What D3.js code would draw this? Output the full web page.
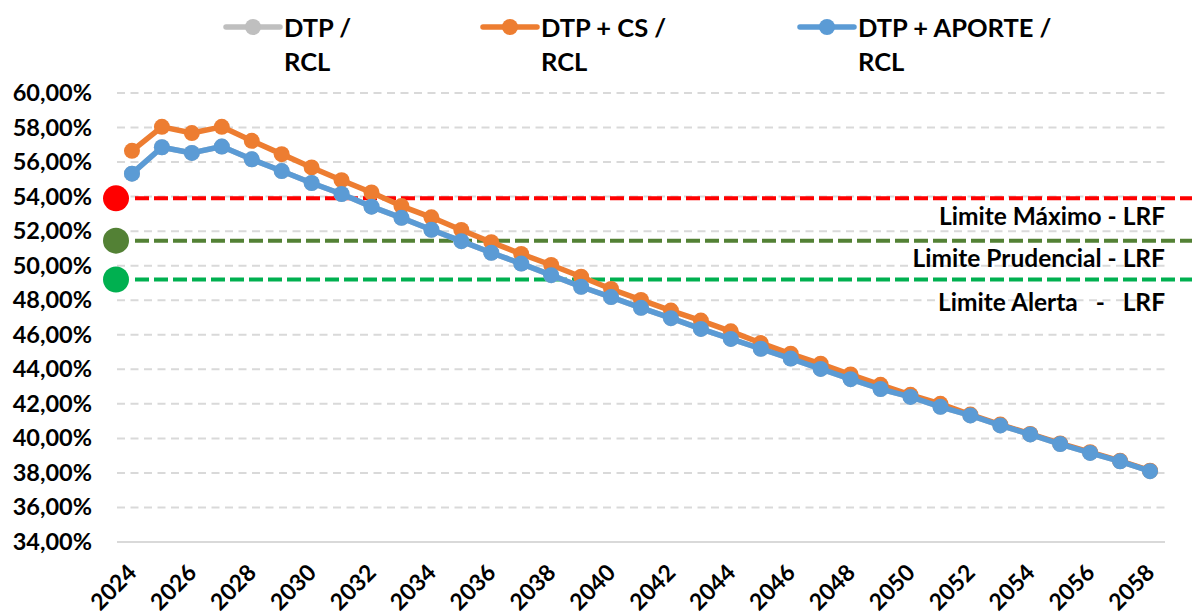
<!DOCTYPE html>
<html><head><meta charset="utf-8">
<script src="https://cdn.jsdelivr.net/npm/d3@7/dist/d3.min.js"></script>
<style>
body{margin:0;background:#fff}
svg{display:block}
text{font-family:Lato,"Open Sans",sans-serif;font-weight:700;fill:#000}
</style>
</head><body>
<svg id="chart" width="1192" height="614"></svg>
<script>
// ---- data ----
const years = [2024,2025,2026,2027,2028,2029,2030,2031,2032,2033,2034,2035,2036,2037,2038,2039,2040,2041,2042,2043,2044,2045,2046,2047,2048,2049,2050,2051,2052,2053,2054,2055,2056,2057,2058];
const dtpRcl = [55.33,56.86,56.53,56.90,56.16,55.48,54.79,54.15,53.42,52.77,52.08,51.42,50.75,50.12,49.45,48.78,48.18,47.56,46.96,46.34,45.76,45.19,44.62,44.02,43.43,42.86,42.40,41.83,41.33,40.75,40.23,39.67,39.16,38.67,38.10];
const dtpCsRcl = [56.65,58.04,57.68,58.04,57.23,56.46,55.69,54.95,54.24,53.45,52.80,52.07,51.36,50.68,50.04,49.36,48.65,48.02,47.40,46.82,46.20,45.52,44.90,44.32,43.70,43.10,42.52,42.00,41.38,40.80,40.26,39.71,39.20,38.70,38.13];
const dtpAporteRcl = [55.33,56.86,56.53,56.90,56.16,55.48,54.79,54.15,53.42,52.77,52.08,51.42,50.75,50.12,49.45,48.78,48.18,47.56,46.96,46.34,45.76,45.19,44.62,44.02,43.43,42.86,42.40,41.83,41.33,40.75,40.23,39.67,39.16,38.67,38.10];
const seriesNames = [["DTP /","RCL"],["DTP + CS /","RCL"],["DTP + APORTE /","RCL"]];
const yTicks = [34,36,38,40,42,44,46,48,50,52,54,56,58,60];
const xTickYears = [2024,2026,2028,2030,2032,2034,2036,2038,2040,2042,2044,2046,2048,2050,2052,2054,2056,2058];
const limitLabels = ["Limite Máximo - LRF","Limite Prudencial - LRF","Limite Alerta   -   LRF"];
const limitValues = [53.9,51.45,49.2];

// ---- styles ----
const seriesColors = ["#bfbfbf","#ed7d31","#5b9bd5"];
const limitColors = ["#ff0000","#538135","#00b050"];

const svg = d3.select("#chart");
const x = d3.scaleBand().domain(years).range([117,1165]).padding(0);
const y = d3.scaleLinear().domain([34,60]).range([542,93]);
const cx = d => x(d) + x.bandwidth()/2;

// gridlines
svg.append("g").selectAll("line").data(yTicks.filter(t=>t!==34)).join("line")
  .attr("x1",117).attr("x2",1165)
  .attr("y1",d=>y(d)).attr("y2",d=>y(d))
  .attr("stroke","#d9d9d9").attr("stroke-width",2).attr("stroke-dasharray","8,5.5");
// axis line
svg.append("line").attr("x1",117).attr("x2",1165).attr("y1",y(34)).attr("y2",y(34))
  .attr("stroke","#d9d9d9").attr("stroke-width",2);

// y axis labels
const yAxis = svg.append("g").attr("transform","translate(92,0)")
  .call(d3.axisLeft(y).tickValues(yTicks).tickSize(0).tickPadding(0)
    .tickFormat(d=>d3.format(".2f")(d).replace(".",",")+"%"));
yAxis.select(".domain").remove();
yAxis.selectAll("text").attr("font-size",23.5).attr("font-family",null).attr("fill","#000");

// x axis labels
const xAxis = svg.append("g").attr("transform",`translate(0,${y(34)})`)
  .call(d3.axisBottom(x).tickValues(xTickYears).tickSize(0));
xAxis.select(".domain").remove();
xAxis.selectAll("text").attr("font-size",23).attr("font-family",null).attr("fill","#000")
  .attr("text-anchor","end").attr("y",0).attr("dy",0)
  .attr("transform","translate(6,32) rotate(-45)");

// limit lines
const lim = svg.append("g");
limitValues.forEach((v,i)=>{
  lim.append("line").attr("x1",135).attr("x2",1192).attr("y1",y(v)).attr("y2",y(v))
    .attr("stroke",limitColors[i]).attr("stroke-width",4).attr("stroke-dasharray","14,5");
  lim.append("circle").attr("cx",116).attr("cy",y(v)).attr("r",13).attr("fill",limitColors[i]);
});
const limitTextY = [225,267,311];
svg.append("g").selectAll("text").data(limitLabels).join("text")
  .attr("x",1165).attr("y",(d,i)=>limitTextY[i]).attr("text-anchor","end")
  .attr("font-size",24.5).style("white-space","pre").text(d=>d);

// series
const allSeries = [dtpRcl,dtpCsRcl,dtpAporteRcl];
const line = d3.line().x((d,i)=>cx(years[i])).y(d=>y(d));
allSeries.forEach((vals,si)=>{
  const g = svg.append("g");
  g.append("path").datum(vals).attr("d",line).attr("fill","none")
    .attr("stroke",seriesColors[si]).attr("stroke-width",5.5)
    .attr("stroke-linejoin","round").attr("stroke-linecap","round");
  g.selectAll("circle").data(vals).join("circle")
    .attr("cx",(d,i)=>cx(years[i])).attr("cy",d=>y(d)).attr("r",8)
    .attr("fill",seriesColors[si]);
});

// legend
const legendX = [226,483,800];
const leg = svg.append("g");
seriesNames.forEach((nm,i)=>{
  const lx = legendX[i];
  leg.append("line").attr("x1",lx).attr("x2",lx+54).attr("y1",27).attr("y2",27)
    .attr("stroke",seriesColors[i]).attr("stroke-width",5.5).attr("stroke-linecap","round");
  leg.append("circle").attr("cx",lx+27).attr("cy",27).attr("r",8).attr("fill",seriesColors[i]);
  const t = leg.append("text").attr("x",lx+58).attr("y",37).attr("font-size",25.5);
  nm.forEach((s,k)=>{
    t.append("tspan").attr("x",lx+58).attr("y",37+k*34).text(s);
  });
});
</script>
</body></html>
